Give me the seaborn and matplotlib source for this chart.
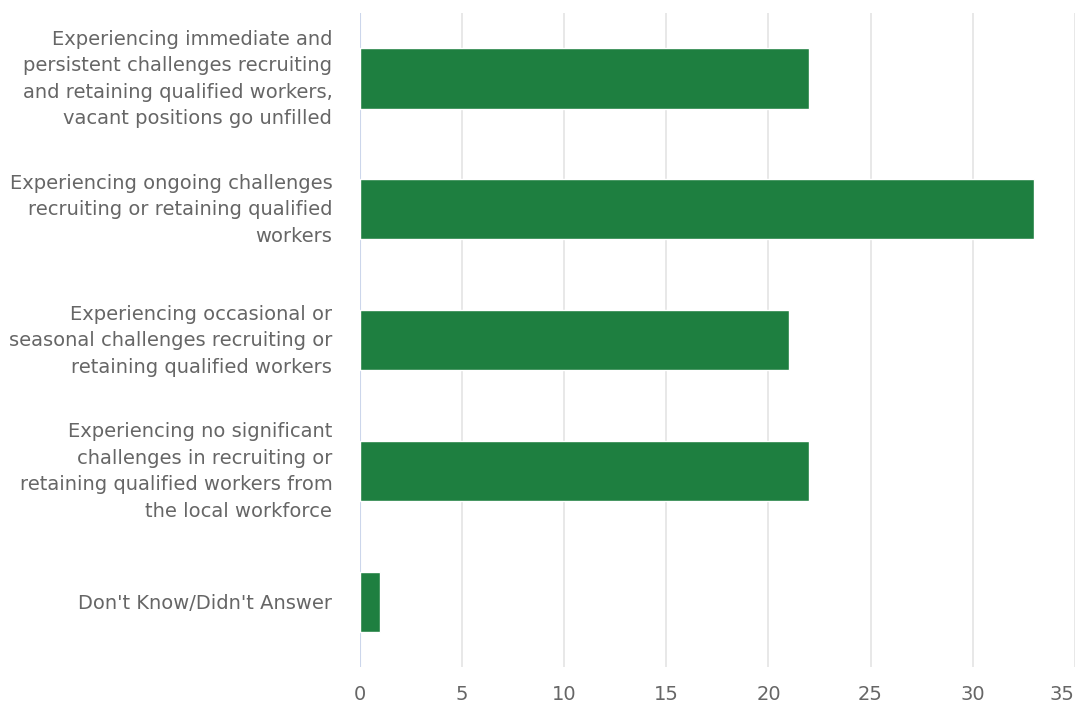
import matplotlib
matplotlib.use("Agg")
import matplotlib.pyplot as plt
import matplotlib.transforms as mtransforms
import seaborn as sns
import pandas as pd

categories = [
    "Experiencing immediate and\npersistent challenges recruiting\nand retaining qualified workers,\nvacant positions go unfilled",
    "Experiencing ongoing challenges\nrecruiting or retaining qualified\nworkers",
    "Experiencing occasional or\nseasonal challenges recruiting or\nretaining qualified workers",
    "Experiencing no significant\nchallenges in recruiting or\nretaining qualified workers from\nthe local workforce",
    "Don't Know/Didn't Answer",
]
values = [22, 33, 21, 22, 1]
x_ticks = [0, 5, 10, 15, 20, 25, 30, 35]

df = pd.DataFrame({"category": categories, "value": values})

sns.set_theme(style="white")
plt.rcParams["font.family"] = ["DejaVu Sans"]

fig = plt.figure(figsize=(10.78, 7.04), dpi=100)
ax = fig.add_axes([0.334, 0.0525, 0.663, 0.929])

sns.barplot(data=df, x="value", y="category", orient="h", color="#1e7f40",
            width=0.46, saturation=1, ax=ax, zorder=3)

ax.set_xlim(0, 35)
ax.set_xticks(x_ticks)
ax.set_xticklabels([str(t) for t in x_ticks])
ax.set_xlabel("")
ax.set_ylabel("")

for x in x_ticks[1:]:
    ax.axvline(x, color="#e6e6e6", lw=1.3, zorder=1)
ax.axvline(0, color="#ccd6eb", lw=1.5, zorder=2)

for s in ax.spines.values():
    s.set_visible(False)

ax.tick_params(axis="x", length=0, pad=13, labelsize=14, labelcolor="#666666")
ax.tick_params(axis="y", length=0, pad=20, labelsize=14, labelcolor="#666666")

# nudge wrapped category labels up so each block is centred on its bar
lift = mtransforms.ScaledTranslation(0, 5 / 100, fig.dpi_scale_trans)
for lbl in ax.get_yticklabels():
    lbl.set_linespacing(1.5)
    lbl.set_horizontalalignment("right")
    if "\n" in lbl.get_text():
        lbl.set_transform(lbl.get_transform() + lift)

# keep the last x label inside the figure
ax.get_xticklabels()[-1].set_horizontalalignment("right")

fig.savefig("out.png", dpi=100)
